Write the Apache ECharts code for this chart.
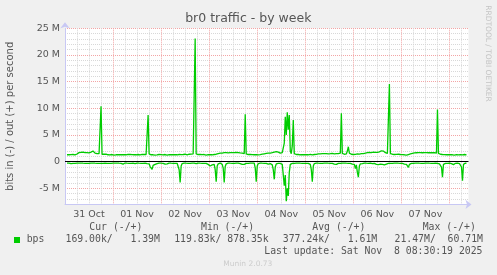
<!DOCTYPE html>
<html>
<head>
<meta charset="utf-8">
<script src="https://cdn.jsdelivr.net/npm/echarts@6/dist/echarts.min.js"></script>
<style>
html,body{margin:0;padding:0;background:#f0f0f0;}
#c{width:497px;height:275px;}
</style>
</head>
<body>
<div id="c"></div>
<script>
// ---- data (Mbit/s), one value every 30 min, starting 31 Oct 01:00 ----
const START_HOUR = 1;      // hours after 31 Oct 00:00
const STEP_HOURS = 0.5;
const OUT_M = [
1.30,1.35,1.30,1.28,1.32,1.30,1.35,1.30,1.28,1.30,
1.45,1.60,1.70,1.65,1.75,2.00,1.80,1.70,1.72,1.68,
1.70,1.75,1.65,1.70,1.80,1.75,2.00,1.85,1.60,1.55,
1.50,1.55,1.50,1.45,10.40,1.40,1.45,1.40,1.38,1.42,
1.35,1.30,1.32,1.28,1.30,1.35,1.30,1.25,1.28,1.30,
1.32,1.30,1.35,1.30,1.28,1.30,1.25,1.30,1.32,1.30,
1.35,1.38,1.40,1.35,1.30,1.32,1.35,1.30,1.28,1.30,
1.30,1.35,1.32,1.30,1.35,1.38,1.40,1.35,1.30,1.35,
1.40,8.75,1.45,1.35,1.30,1.25,1.30,1.20,1.25,1.30,
1.28,1.30,1.35,1.30,1.32,1.30,1.28,1.30,1.35,1.30,
1.25,1.30,1.32,1.35,1.30,1.28,1.30,1.32,1.30,1.35,
1.30,1.28,1.35,1.30,1.32,1.30,1.35,1.38,1.40,1.35,
1.30,1.35,1.40,1.38,1.42,1.40,1.45,1.50,23.10,1.45,
1.40,1.35,1.38,1.35,1.30,1.32,1.30,1.35,1.28,1.25,
1.30,1.32,1.35,1.30,1.28,1.30,1.32,1.35,1.38,1.40,
1.45,1.50,1.55,1.60,1.65,1.62,1.65,1.70,1.68,1.72,
1.70,1.65,1.70,1.72,1.75,1.70,1.68,1.72,1.70,1.75,
1.70,1.72,1.68,1.65,1.70,1.60,1.55,1.50,8.90,1.45,
1.40,1.35,1.38,1.35,1.30,1.32,1.35,1.30,1.35,1.32,
1.30,1.28,1.30,1.32,1.35,1.40,1.45,1.48,1.50,1.55,
1.55,1.60,1.58,1.62,1.65,1.70,1.75,1.80,1.85,1.90,
1.95,1.80,1.65,1.60,1.65,1.70,1.90,3.50,8.40,5.00,
9.25,6.00,8.75,2.00,1.50,3.00,7.80,1.50,1.40,1.35,
1.30,1.35,1.32,1.30,1.35,1.30,1.28,1.32,1.35,1.30,
1.32,1.30,1.35,1.38,1.35,1.30,1.32,1.35,1.40,1.38,
1.42,1.45,1.50,1.48,1.52,1.50,1.55,1.50,1.48,1.52,
1.50,1.48,1.45,1.50,1.52,1.55,1.50,1.48,1.45,1.50,
1.52,1.50,1.55,1.60,9.10,1.55,1.45,1.40,1.42,1.45,
2.00,2.80,1.60,1.45,1.40,1.38,1.35,1.40,1.38,1.42,
1.45,1.40,1.42,1.45,1.50,1.48,1.52,1.55,1.60,1.65,
1.70,1.72,1.75,1.70,1.72,1.75,1.78,1.80,1.75,1.72,
1.75,1.80,1.85,1.90,2.05,2.30,2.00,1.80,1.70,1.60,
1.55,1.50,14.55,1.50,1.45,1.40,1.38,1.35,1.40,1.38,
1.35,1.40,1.38,1.35,1.30,1.32,1.35,1.30,1.20,1.25,
1.30,1.35,1.40,1.45,1.50,1.55,1.60,1.65,1.70,1.68,
1.72,1.70,1.75,1.72,1.70,1.68,1.72,1.70,1.75,1.72,
1.70,1.68,1.70,1.72,1.70,1.68,1.65,1.70,1.68,1.60,
9.80,1.55,1.45,1.40,1.38,1.35,1.30,1.32,1.35,1.30,
1.28,1.30,1.32,1.30,1.35,1.30,1.28,1.25,1.30,1.32,
1.30,1.28,1.30,1.32,1.30,1.28,1.30,1.35,1.32,1.30
];
const IN_M = [
-0.25,-0.3,-0.25,-0.3,-0.35,-0.55,-0.3,-0.25,-0.3,-0.25,
-0.25,-0.3,-0.25,-0.3,-0.25,-0.3,-0.28,-0.25,-0.3,-0.25,
-0.3,-0.25,-0.3,-0.28,-0.25,-0.3,-0.25,-0.3,-0.28,-0.25,
-0.3,-0.25,-0.3,-0.35,-0.3,-0.25,-0.3,-0.28,-0.25,-0.4,
-0.3,-0.25,-0.3,-0.25,-0.3,-0.28,-0.25,-0.3,-0.25,-0.3,
-0.25,-0.3,-0.28,-0.25,-0.3,-0.25,-0.45,-0.3,-0.25,-0.3,
-0.28,-0.25,-0.3,-0.25,-0.3,-0.28,-0.25,-0.3,-0.35,-0.3,
-0.25,-0.3,-0.28,-0.25,-0.3,-0.25,-0.3,-0.28,-0.25,-0.3,
-0.35,-0.5,-0.4,-0.9,-0.6,-1.43,-0.7,-0.9,-0.5,-0.6,
-0.35,-0.3,-0.25,-0.3,-0.28,-0.25,-0.3,-0.35,-0.45,-0.6,
-0.4,-0.3,-0.25,-0.3,-0.28,-0.25,-0.3,-0.25,-0.3,-0.35,
-0.3,-0.5,-1.5,-3.9,-0.8,-0.35,-0.3,-0.25,-0.3,-0.28,
-0.25,-0.3,-0.25,-0.3,-0.28,-0.25,-0.3,-0.25,-0.3,-0.35,
-0.3,-0.25,-0.3,-0.28,-0.25,-0.3,-0.25,-0.3,-0.28,-0.3,
-0.35,-0.5,-0.6,-0.8,-0.5,-0.6,-0.4,-0.5,-1.5,-3.75,
-0.8,-0.4,-0.3,-0.25,-0.3,-0.5,-1.2,-3.9,-0.9,-0.4,
-0.3,-0.25,-0.3,-0.28,-0.25,-0.3,-0.25,-0.3,-0.28,-0.25,
-0.3,-0.25,-0.3,-0.35,-0.4,-0.5,-0.45,-0.5,-0.35,-0.3,
-0.25,-0.3,-0.28,-0.25,-0.3,-0.25,-0.3,-0.28,-1.2,-3.75,
-0.8,-0.35,-0.3,-0.25,-0.3,-0.28,-0.25,-0.3,-0.25,-0.3,
-0.35,-0.45,-0.3,-0.35,-0.4,-0.6,-1.5,-3.3,-1.0,-0.4,
-0.35,-0.3,-0.35,-0.3,-0.4,-0.5,-0.8,-4.5,-2.5,-7.4,
-5.0,-6.4,-2.0,-0.5,-0.35,-0.3,-0.25,-0.3,-0.28,-0.25,
-0.3,-0.25,-0.3,-0.28,-0.25,-0.3,-0.25,-0.3,-0.28,-0.3,
-0.25,-0.3,-0.35,-0.5,-1.5,-3.75,-0.8,-0.35,-0.3,-0.25,
-0.3,-0.28,-0.25,-0.3,-0.25,-0.3,-0.28,-0.25,-0.3,-0.25,
-0.3,-0.28,-0.25,-0.3,-0.25,-0.3,-0.35,-0.45,-0.6,-0.5,
-0.35,-0.3,-0.25,-0.3,-0.28,-0.25,-0.3,-0.25,-0.3,-0.28,
-0.25,-0.3,-0.35,-0.3,-0.4,-0.45,-0.35,-0.5,-1.3,-0.6,
-2.0,-2.9,-0.8,-0.4,-0.3,-0.35,-0.3,-0.25,-0.3,-0.28,
-0.25,-0.3,-0.28,-0.25,-0.3,-0.35,-0.4,-0.3,-0.45,-0.5,
-0.4,-0.55,-0.6,-0.45,-0.8,-0.5,-0.4,-0.6,-0.7,-0.45,
-0.35,-0.3,-0.35,-0.3,-0.25,-0.3,-0.28,-0.25,-0.3,-0.25,
-0.3,-0.28,-0.25,-0.3,-0.25,-0.3,-0.35,-0.45,-0.6,-0.5,
-0.7,-1.05,-0.5,-0.35,-0.3,-0.25,-0.3,-0.28,-0.25,-0.3,
-0.25,-0.3,-0.28,-0.25,-0.3,-0.25,-0.3,-0.28,-0.25,-0.3,
-0.25,-0.3,-0.28,-0.25,-0.3,-0.25,-0.3,-0.28,-0.25,-0.3,
-0.3,-0.35,-0.4,-0.5,-1.0,-2.9,-0.5,-0.35,-0.3,-0.25,
-0.3,-0.28,-0.25,-0.3,-0.35,-0.4,-0.55,-0.4,-0.3,-0.28,
-0.25,-0.3,-0.35,-0.4,-1.0,-3.55,-0.5,-0.3,-0.25,-0.3
];
const DAY_LABELS = ['31 Oct','01 Nov','02 Nov','03 Nov','04 Nov','05 Nov','06 Nov','07 Nov'];
const Y_LABELS_M = [-5, 0, 5, 10, 15, 20, 25];
const X_MIN_H = 0, X_MAX_H = 201.5;
const Y_MIN_M = -8, Y_MAX_M = 25;

const TITLE = 'br0 traffic - by week';
const Y_NAME = 'bits in (-) / out (+) per second';
const SIDE_TEXT = 'RRDTOOL / TOBI OETIKER';
const LEGEND_NAME = 'bps';
const LEGEND_HEADERS = ['Cur (-/+)', 'Min (-/+)', 'Avg (-/+)', 'Max (-/+)'];
const LEGEND_CELLS = ['169.00k/   1.39M', '119.83k/ 878.35k', '377.24k/   1.61M', ' 21.47M/  60.71M'];
const LAST_UPDATE = 'Last update: Sat Nov  8 08:30:19 2025';
const FOOTER = 'Munin 2.0.73';

// ---- build ----
const toPts = arr => arr.map((v, i) => [START_HOUR + i * STEP_HOURS, v * 1e6]);
const GREEN = '#00cc00';
const TXT = '#555555';
const AXIS = '#c8c8f4';
const GREY = '#d8d8d8';
const RED = '#f3a5a5';
const SANS = '"DejaVu Sans"';
const MONO = '"DejaVu Sans Mono"';

const chart = echarts.init(document.getElementById('c'), null, {renderer: 'canvas'});

const graphic = [];
function txt(x, y, text, font, fill, align) {
  graphic.push({type: 'text', x: x, y: y, silent: true,
    style: {text: text, font: font, fill: fill, align: align || 'left', verticalAlign: 'middle'}});
}
txt(248.3, 18.5, TITLE, '12.5px ' + SANS, TXT, 'center');
graphic.push({type: 'text', x: 487.5, y: 53.5, rotation: -Math.PI / 2, silent: true,
  style: {text: SIDE_TEXT, font: '7.5px ' + SANS, fill: '#c4c4c4', align: 'center', verticalAlign: 'middle'}});
const HEAD_X = [89.3, 201, 312.3, 422.7];
const CELL_X = [65.5, 174.2, 282.8];
const LF = '9.8px ' + MONO;
LEGEND_HEADERS.forEach((h, i) => txt(HEAD_X[i], 227.8, h, LF, TXT));
graphic.push({type: 'rect', silent: true, shape: {x: 14, y: 237, width: 6, height: 6}, style: {fill: GREEN}});
txt(26.7, 239.5, LEGEND_NAME, LF, TXT);
LEGEND_CELLS.forEach((t, i) => {
  if (i < 3) txt(CELL_X[i], 239.5, t, LF, TXT);
  else txt(483, 239.5, t, LF, TXT, 'right');
});
txt(482.5, 251, LAST_UPDATE, LF, TXT, 'right');
txt(223.3, 264.2, FOOTER, '7.5px ' + SANS, '#cccccc');

// split lines cycle through these colours (first drawn line = first tick after min):
// x: every 6 h, red at midnights; y: every 1 M, red at multiples of 5 M
const xGridColors = [GREY, GREY, GREY, RED];
const yGridColors = [GREY, GREY, RED, GREY, GREY];

chart.setOption({
  animation: false,
  backgroundColor: '#f0f0f0',
  grid: {left: 65, right: 28.5, top: 28.3, bottom: 70.6, show: true, backgroundColor: '#ffffff',
         borderWidth: 0, containLabel: false, outerBoundsMode: 'none'},
  xAxis: {type: 'value', min: X_MIN_H, max: X_MAX_H, interval: 6,
     axisLine: {show: true, onZero: false, lineStyle: {color: AXIS, width: 1}, symbol: ['none','arrow'], symbolSize: [7, 6], symbolOffset: [0, 3]},
     axisTick: {show: false},
     splitLine: {show: true, showMinLine: false, showMaxLine: false, lineStyle: {color: xGridColors, type: [1, 1], width: 1}},
     axisLabel: {show: true, margin: 5, color: TXT, fontFamily: 'DejaVu Sans', fontSize: 9.5,
       showMinLabel: true, showMaxLabel: true,
       formatter: v => (v % 24 === 12 ? DAY_LABELS[(v - 12) / 24] || '' : '')}},
  yAxis: {type: 'value', min: Y_MIN_M * 1e6, max: Y_MAX_M * 1e6, interval: 1e6,
     name: Y_NAME, nameLocation: 'middle', nameGap: 50,
     nameTextStyle: {color: TXT, fontFamily: 'DejaVu Sans', fontSize: 10},
     axisLine: {show: true, onZero: false, lineStyle: {color: AXIS, width: 1}, symbol: ['none','arrow'], symbolSize: [7, 6], symbolOffset: [0, 6]},
     axisTick: {show: false},
     splitLine: {show: true, showMinLine: false, lineStyle: {color: yGridColors, type: [1, 1], width: 1}},
     axisLabel: {show: true, margin: 5, color: TXT, fontFamily: 'DejaVu Sans', fontSize: 9.5,
       showMinLabel: true, showMaxLabel: true,
       formatter: v => {
         const m = Math.round(v / 1e6);
         if (Y_LABELS_M.indexOf(m) < 0 || Math.abs(v - m * 1e6) > 1) return '';
         return m === 0 ? '0' : m + ' M';
       }}},
  series: [
    {type: 'line', name: 'out', data: toPts(OUT_M), showSymbol: false,
     lineStyle: {color: GREEN, width: 1.3}, itemStyle: {color: GREEN}, silent: true, z: 3,
     markLine: {silent: true, symbol: ['none','none'], label: {show: false}, animation: false,
       lineStyle: {color: '#000000', type: 'solid', width: 1}, data: [{yAxis: 0}]}},
    {type: 'line', name: 'in', data: toPts(IN_M), showSymbol: false,
     lineStyle: {color: GREEN, width: 1.3}, itemStyle: {color: GREEN}, silent: true, z: 3}
  ],
  graphic: graphic
});
</script>
</body>
</html>
